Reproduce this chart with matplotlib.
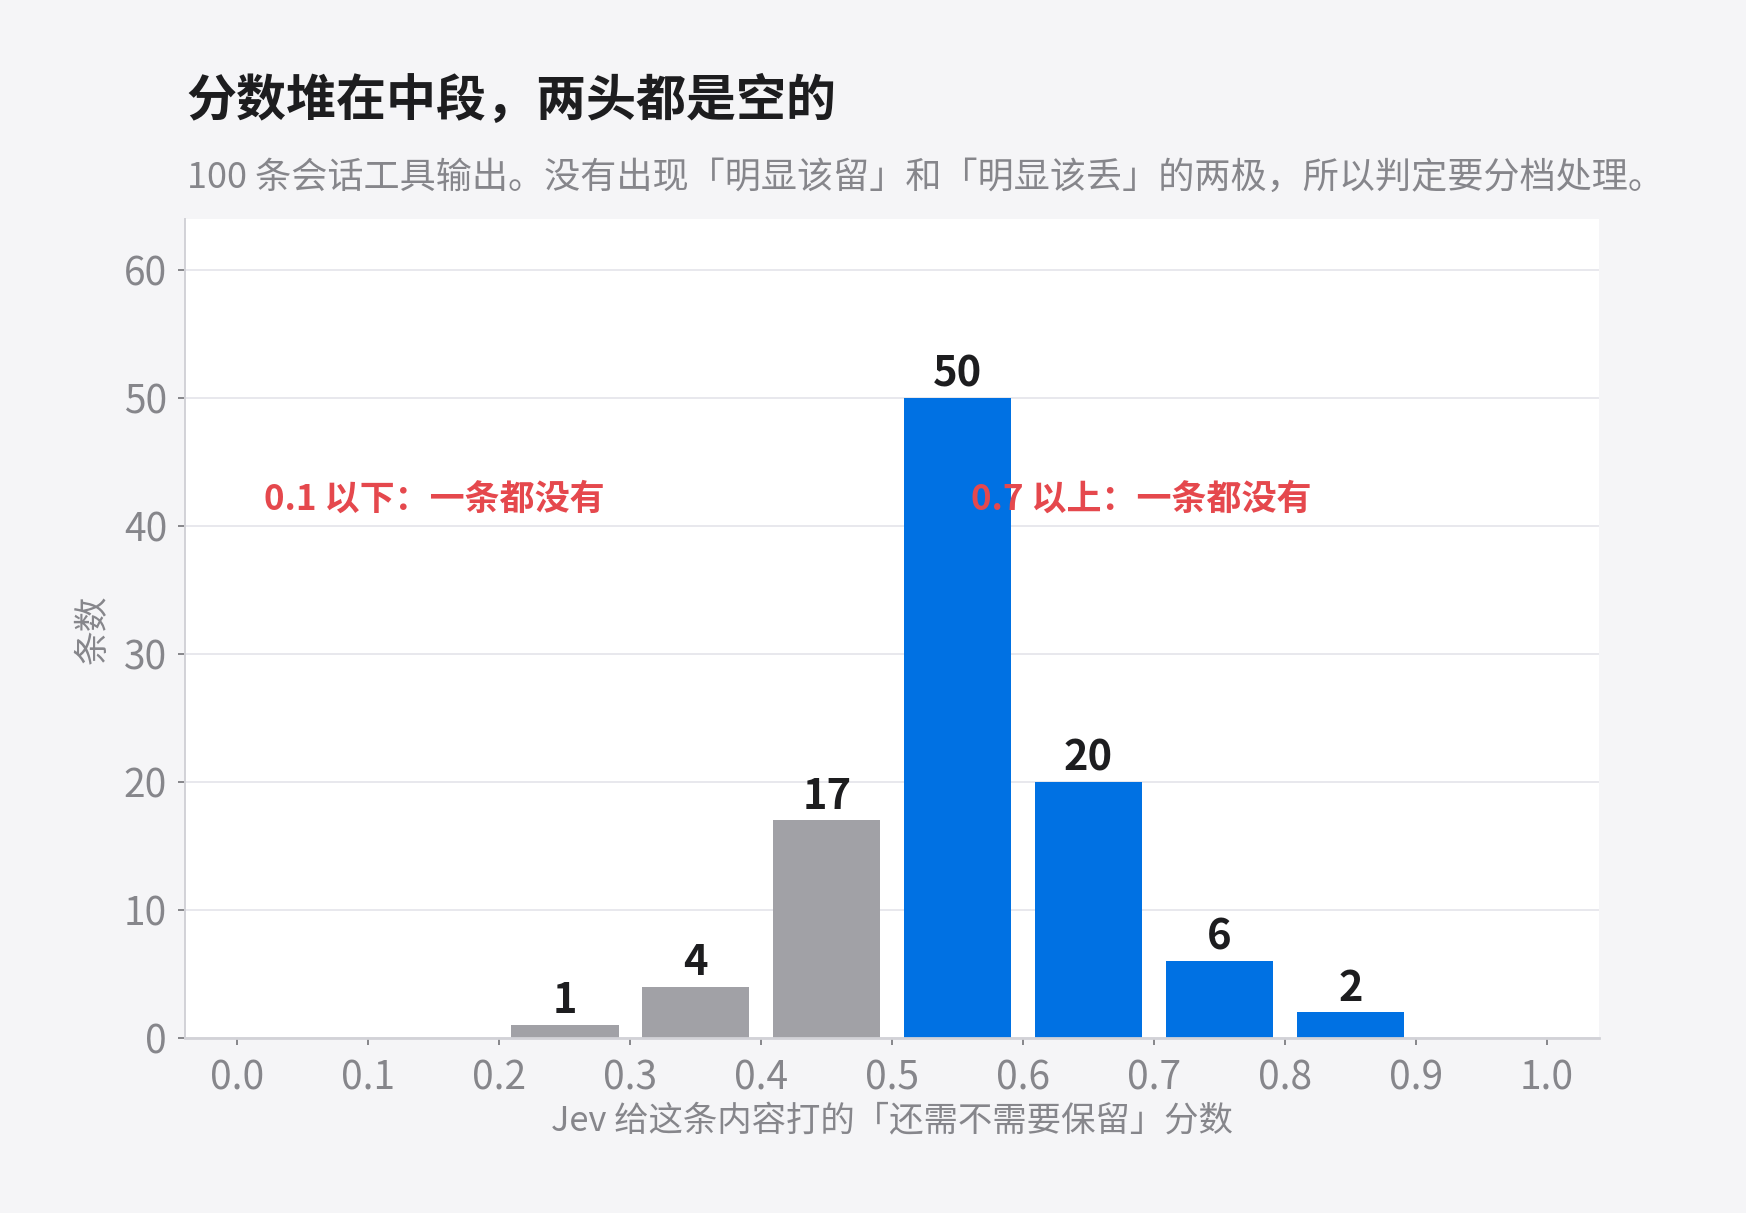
import matplotlib
matplotlib.use("Agg")
import matplotlib.pyplot as plt

plt.rcParams['font.family'] = ['Noto Sans CJK SC', 'DejaVu Sans']

# histogram of scores, bin edges every 0.1
bin_left = [0.0, 0.1, 0.2, 0.3, 0.4, 0.5, 0.6, 0.7, 0.8, 0.9]
counts = [0, 0, 1, 4, 17, 50, 20, 6, 2, 0]
x_ticks = [0.0, 0.1, 0.2, 0.3, 0.4, 0.5, 0.6, 0.7, 0.8, 0.9, 1.0]
y_ticks = [0, 10, 20, 30, 40, 50, 60]

title = "分数堆在中段，两头都是空的"
subtitle = "100 条会话工具输出。没有出现「明显该留」和「明显该丢」的两极，所以判定要分档处理。"
x_label = "Jev 给这条内容打的「还需不需要保留」分数"
y_label = "条数"
note_low = "0.1 以下：一条都没有"
note_high = "0.7 以上：一条都没有"

BG = "#F5F5F7"
GRAY_BAR = "#A1A1A6"
BLUE = "#0071E3"
RED = "#E5484D"
TEXT_GRAY = "#86868B"
DARK = "#1D1D1F"
GRID = "#E8E8ED"
SPINE = "#D2D2D7"

fig = plt.figure(figsize=(8.73, 6.065), dpi=200, facecolor=BG)
ax = fig.add_axes([0.106, 0.1443, 0.810, 0.6752])
ax.set_facecolor("white")

centers = [b + 0.05 for b in bin_left]
colors = [BLUE if b >= 0.5 else GRAY_BAR for b in bin_left]
ax.bar(centers, counts, width=0.082, color=colors, zorder=2)

for c, n in zip(centers, counts):
    if n > 0:
        ax.annotate(str(n), (c, n), xytext=(0, 1), textcoords="offset points",
                    ha="center", va="bottom", fontsize=15, fontweight="bold",
                    color=DARK, zorder=4)

ax.text(0.02, 42.1, note_low, color=RED, fontsize=12.6, fontweight="bold",
        ha="left", va="center", zorder=5)
ax.text(0.56, 42.1, note_high, color=RED, fontsize=12.6, fontweight="bold",
        ha="left", va="center", zorder=5)

ax.set_xlim(-0.04, 1.04)
ax.set_ylim(0, 64)
ax.set_xticks(x_ticks)
ax.set_xticklabels([f"{t:.1f}" for t in x_ticks])
ax.set_yticks(y_ticks)

ax.grid(axis="y", color=GRID, linewidth=0.7, zorder=0)
ax.set_axisbelow(True)
for side in ["top", "right"]:
    ax.spines[side].set_visible(False)
ax.spines["left"].set_color(SPINE)
ax.spines["left"].set_linewidth(0.7)
ax.spines["bottom"].set_color(SPINE)
ax.spines["bottom"].set_linewidth(1.0)
ax.tick_params(axis="both", colors=TEXT_GRAY, labelsize=14, length=2.5,
               width=0.7, pad=4)
ax.tick_params(axis="x", pad=5)

fig.text(0.107, 0.916, title, fontsize=18, fontweight="bold", color=DARK,
         ha="left", va="center")
fig.text(0.107, 0.853, subtitle, fontsize=13.0, color=TEXT_GRAY,
         ha="left", va="center")
fig.text(0.511, 0.0755, x_label, fontsize=12.4, color=TEXT_GRAY,
         ha="center", va="center")
fig.text(0.0536, 0.481, y_label, fontsize=12.5, color=TEXT_GRAY,
         ha="center", va="center", rotation=90)

fig.savefig("out.png", dpi=200, facecolor=BG)
